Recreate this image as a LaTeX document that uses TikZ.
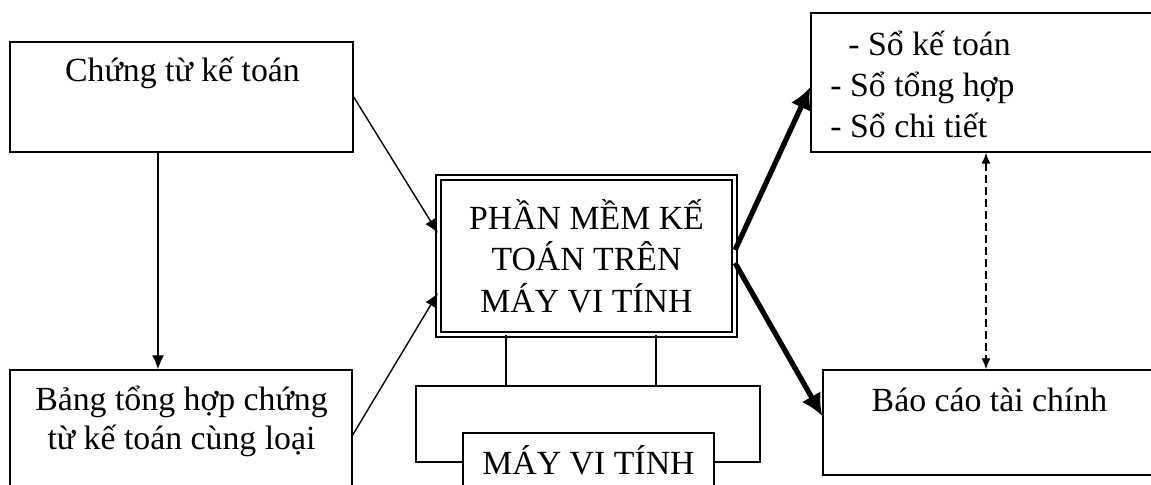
\documentclass[tikz,border=0pt]{standalone}
\usepackage{fontspec}
\setmainfont{Liberation Serif}
\usetikzlibrary{arrows.meta}
\begin{document}
\begin{tikzpicture}[x=0.5pt,y=-0.5pt,>={Latex[length=7pt,width=6pt]},
	hop/.style={draw,line width=0.7pt,inner sep=0pt,fill=white},
	chu/.style={font=\fontsize{16.9}{19.5}\selectfont,align=center,inner sep=0pt},
	muiday/.style={line width=2.6pt,-{Latex[length=11pt,width=11pt]}}]
	\clip (0,0) rectangle (1151,485);
	% cac khoi ben trai
	\node[hop,minimum width=171.5pt,minimum height=55pt] (ctu) at (181.5,97) {};
	\node[chu] (ctu-t) at (182.5,73) {Chứng từ kế toán};
	\node[hop,minimum width=171pt,minimum height=65pt] (bth) at (181,435) {};
	\node[chu] (bth-t) at (181.5,421) {Bảng tổng hợp chứng\\từ kế toán cùng loại};
	% phan mem o giua
	\node[hop,double,double distance=1.9pt,line width=0.6pt,minimum width=148pt,minimum height=78.5pt,
		font=\fontsize{16.9}{20.7}\selectfont,align=center] (pm) at (586.5,256) {PHẦN MỀM KẾ\\TOÁN TRÊN\\MÁY VI TÍNH};
	\node[hop,minimum width=172pt,minimum height=38pt] (khung) at (588,424) {};
	\node[hop,minimum width=125.5pt,minimum height=43.5pt] (may) at (588.5,476.5) {};
	\node[chu] (may-t) at (588.5,460) {MÁY VI TÍNH};
	% cac khoi ben phai
	\node[hop,minimum width=179.5pt,minimum height=69.5pt] (so) at (990.5,82.5) {};
	\node[chu,anchor=west] (so1) at (848,43) {- Sổ kế toán};
	\node[chu,anchor=west] (so2) at (830,88) {- Sổ tổng hợp};
	\node[chu,anchor=west] (so3) at (830,125) {- Sổ chi tiết};
	\node[hop,minimum width=173.5pt,minimum height=52.5pt] (bctc) at (996.5,422.5) {};
	\node[chu] (bctc-t) at (989.5,400) {Báo cáo tài chính};
	% mui ten
	\draw[line width=0.7pt,->] ([xshift=-11.75pt]ctu.south) -- ([xshift=-11.75pt]ctu.south |- bth.north);
	\draw[line width=0.7pt,->] (ctu.east) -- ([yshift=11.5pt]pm.west);
	\draw[line width=0.7pt,->] (bth.east) -- ([yshift=-18.5pt]pm.west);
	\draw[muiday] ([yshift=3pt]pm.east) -- ([yshift=-2.25pt]so.west);
	\draw[muiday] ([yshift=-3.5pt]pm.east) -- ([yshift=3.25pt]bctc.west);
	\draw[line width=0.7pt,dash pattern=on 4pt off 2pt,{Latex[length=5.5pt,width=4.5pt]}-{Latex[length=5.5pt,width=4.5pt]}]
		([xshift=-2.25pt]so.south) -- ([xshift=-2.25pt]so.south |- bctc.north);
	% noi phan mem voi may
	\draw[line width=0.7pt] ([xshift=-40.25pt]pm.south) -- ([xshift=-40.25pt]pm.south |- khung.north);
	\draw[line width=0.7pt] ([xshift=34.75pt]pm.south) -- ([xshift=34.75pt]pm.south |- khung.north);
\end{tikzpicture}
\end{document}
